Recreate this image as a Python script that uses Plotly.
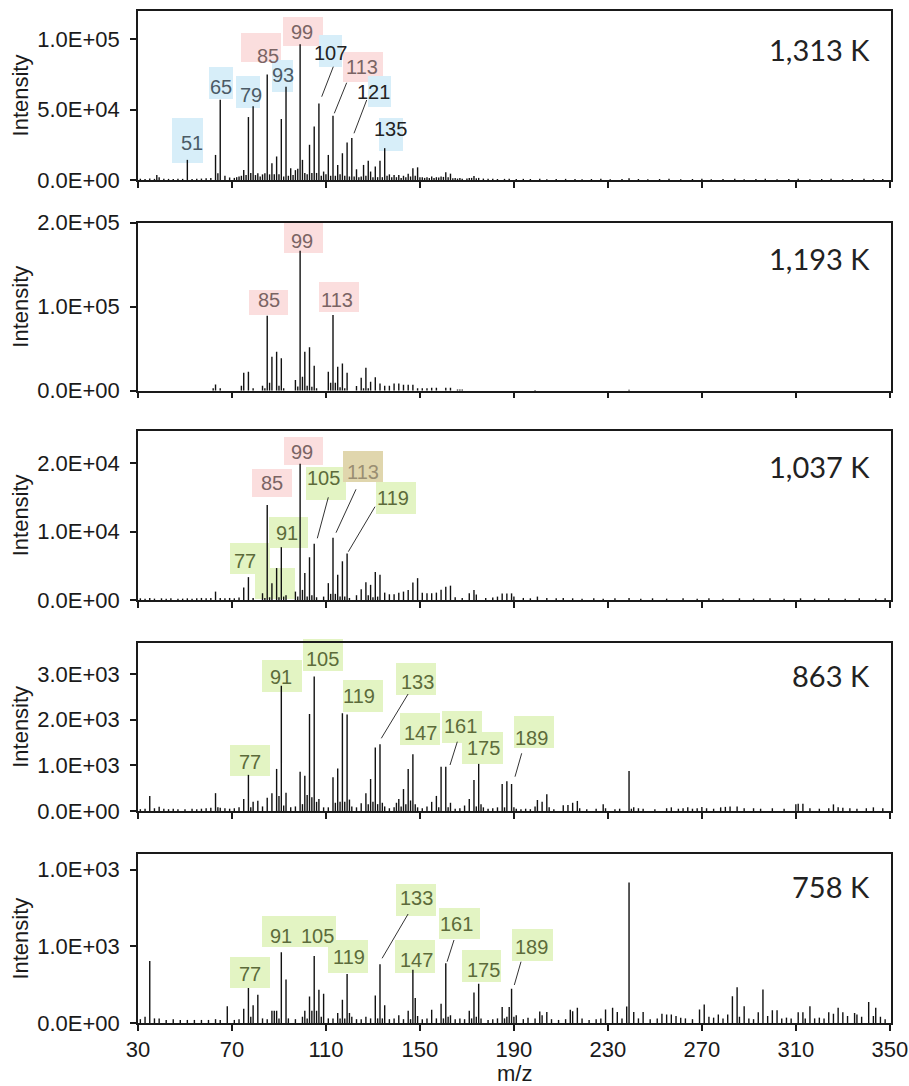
import plotly.graph_objects as go

# ---------------- data ----------------
temps = ["1,313 K", "1,193 K", "1,037 K", "863 K", "758 K"]
x_ticks = [30, 70, 110, 150, 190, 230, 270, 310, 350]

# panel 1 : 1,313 K
p1_mz = [38, 51, 63, 64, 65, 67, 74, 75, 77, 78, 79, 81, 83, 84, 85, 86, 87, 89, 90, 91, 93, 94, 95, 97, 98,
         99, 100, 101, 102, 103, 104, 105, 106, 107, 108, 109, 110, 111, 112, 113, 114, 115, 116, 117, 118,
         119, 120, 121, 122, 123, 124, 125, 126, 127, 128, 129, 130, 131, 132, 133, 134, 135, 136, 137, 138,
         139, 140, 141, 143, 145, 147, 149, 151, 153, 155, 157, 159, 161, 163, 165, 167, 171, 173, 175,
         31, 33, 35, 37, 39, 41, 43, 45, 47, 49, 53, 55, 57, 59, 61, 69, 71, 72, 73, 76, 80, 82, 88, 92, 96,
         142, 144, 146, 148, 150, 152, 154, 156, 158, 160, 162, 164, 166, 168, 170, 172, 174, 177, 179, 181,
         183, 186, 188, 191, 194, 197, 201, 204, 208, 212, 216, 219, 223, 227, 231, 236, 239, 243, 247, 252,
         256, 261, 266, 270, 274, 279, 284, 288, 293, 297, 302, 307, 311, 316, 321, 325, 330, 334, 339, 343, 347]
p1_int = [3600, 14300, 17800, 4800, 57000, 3000, 3000, 7100, 44700, 5000, 52400, 4800, 4000, 4800, 75000, 4000,
          11900, 16700, 4000, 43300, 66200, 3000, 8300, 7000, 8000, 96400, 14300, 5000, 4000, 25000, 5000,
          38000, 5000, 54300, 3000, 6000, 4000, 17800, 3000, 45700, 3000, 10700, 4000, 19000, 3000, 26700,
          2500, 29750, 2500, 7600, 2000, 2500, 10700, 3000, 13600, 6000, 2000, 9500, 2000, 13600, 2000, 22600,
          3000, 4000, 2000, 3500, 2000, 3500, 3000, 4500, 8300, 9000, 2000, 2000, 2500, 2000, 2500, 5500,
          4500, 1500, 1500, 1500, 2800, 1500,
          900, 700, 1100, 800, 2000, 900, 800, 700, 900, 800, 700, 900, 1000, 1200, 1500, 1800, 1500, 2000,
          2500, 3500, 3500, 2500, 4000, 2500, 3500,
          1500, 2000, 2500, 3000, 2000, 1500, 1400, 1500, 1800, 2200, 2000, 1300, 1000, 900, 1000, 1500, 1200,
          1000, 800, 900, 700, 800, 900, 700, 800, 700, 800, 600, 700, 800, 700, 600, 700, 800, 600, 700, 1200,
          700, 600, 700, 800, 600, 700, 800, 600, 700, 800, 600, 700, 800, 600, 700, 800, 600, 700, 800, 600,
          700, 800, 600, 700]

# panel 2 : 1,193 K
p2_mz = [62, 63, 65, 74, 75, 77, 79, 83, 84, 85, 86, 87, 89, 90, 91, 92, 97, 98, 99, 100, 101, 102, 103, 104,
         105, 106, 111, 112, 113, 114, 115, 116, 117, 118, 119, 123, 125, 126, 127, 128, 129, 131, 133, 135,
         137, 139, 141, 143, 145, 147, 149, 151, 153, 155, 157, 161, 163, 166, 167, 168, 199, 239]
p2_int = [2800, 7500, 2800, 6000, 21400, 22600, 2800, 6000, 3000, 89300, 9500, 40500, 46400, 6000, 38500, 3000,
          12700, 5000, 166700, 16700, 46400, 6000, 51600, 4800, 29800, 3000, 22600, 9500, 90100, 9500, 28600,
          4000, 32500, 3000, 21400, 5600, 15500, 3000, 27400, 3000, 10700, 15900, 8700, 6000, 6000, 8700,
          8700, 7000, 7000, 7000, 2800, 2800, 2800, 3500, 3500, 3500, 3500, 1500, 1500, 1500, 800, 1000]

# panel 3 : 1,037 K
p3_mz = [31, 33, 35, 37, 40, 42, 44, 47, 49, 51, 53, 55, 57, 59, 61, 63, 65, 67, 69, 71, 73, 75, 77, 79, 83,
         84, 85, 86, 87, 89, 90, 91, 92, 93, 97, 98, 99, 100, 101, 102, 103, 104, 105, 106, 109, 111, 112,
         113, 114, 115, 116, 117, 118, 119, 120, 123, 125, 127, 128, 129, 130, 131, 132, 133, 135, 137, 139,
         141, 143, 145, 147, 149, 151, 153, 155, 157, 159, 161, 163, 165, 168, 171, 173, 174, 178, 181, 183,
         185, 187, 189, 190, 194, 197, 200, 204, 208, 211, 215, 219, 224, 228, 233, 239, 244, 249, 255, 262,
         268, 273, 279, 286, 292, 299, 305, 312, 318, 324, 331, 337, 344, 348]
p3_int = [250, 200, 300, 200, 250, 200, 250, 200, 200, 250, 200, 250, 300, 250, 300, 1230, 300, 250, 300, 250,
          350, 1820, 3350, 300, 990, 300, 13900, 400, 2470, 4680, 400, 7740, 500, 700, 1230, 500, 19970, 1480,
          3940, 500, 6260, 700, 8230, 400, 500, 2470, 900, 9120, 900, 3700, 500, 5670, 500, 6800, 300, 700,
          1580, 2610, 700, 2220, 400, 4090, 500, 3700, 1080, 840, 840, 1080, 1230, 1480, 2560, 3200, 1080,
          990, 990, 1080, 1500, 1950, 2100, 400, 300, 1000, 1460, 800, 300, 350, 500, 970, 970, 970, 500,
          300, 250, 500, 300, 250, 300, 250, 200, 250, 200, 250, 300, 200, 250, 200, 250, 200, 250, 200, 250,
          200, 250, 200, 250, 200, 250, 200, 250, 200, 250]

# panel 4 : 863 K
p4_mz = [31, 33, 35, 37, 39, 41, 43, 45, 47, 50, 53, 55, 57, 59, 61, 63, 64, 65, 67, 69, 71, 73, 75, 77, 78,
         79, 81, 83, 85, 87, 89, 90, 91, 92, 93, 95, 97, 99, 100, 101, 102, 103, 104, 105, 106, 107, 109, 111,
         113, 114, 115, 116, 117, 118, 119, 120, 121, 123, 125, 127, 128, 129, 130, 131, 132, 133, 134, 135,
         137, 139, 140, 141, 142, 143, 144, 145, 146, 147, 148, 149, 151, 153, 155, 157, 158, 159, 161, 162,
         163, 165, 167, 169, 171, 173, 174, 175, 176, 177, 179, 181, 183, 185, 186, 187, 189, 190, 191, 193,
         195, 197, 199, 200, 202, 204, 205, 207, 211, 213, 215, 217, 218, 221, 225, 228, 229, 233, 235, 239,
         240, 241, 243, 245, 250, 255, 257, 260, 262, 264, 266, 268, 270, 272, 275, 278, 280, 282, 285, 288,
         292, 295, 300, 305, 310, 311, 313, 316, 320, 324, 326, 328, 330, 333, 336, 340, 343, 347]
p4_int = [40, 50, 330, 60, 95, 50, 40, 50, 40, 40, 50, 40, 50, 60, 70, 390, 80, 70, 60, 50, 60, 80, 260, 790,
          80, 200, 225, 100, 290, 390, 920, 330, 2740, 120, 400, 80, 100, 860, 150, 770, 350, 2120, 300, 2940,
          200, 260, 80, 80, 740, 180, 930, 200, 2140, 200, 2110, 250, 100, 80, 170, 390, 150, 700, 200, 1390,
          150, 1460, 180, 100, 60, 80, 180, 260, 100, 480, 150, 920, 230, 1240, 150, 80, 60, 100, 200, 330, 80,
          970, 970, 80, 180, 50, 60, 120, 260, 680, 100, 1030, 150, 80, 50, 60, 80, 590, 80, 650, 590, 80, 50,
          40, 50, 40, 100, 240, 200, 365, 80, 40, 124, 130, 180, 220, 60, 40, 50, 145, 60, 40, 50, 876, 50, 80,
          60, 50, 40, 60, 80, 50, 60, 80, 50, 60, 90, 60, 50, 80, 90, 100, 100, 60, 60, 50, 60, 50, 150, 160,
          160, 60, 50, 60, 145, 80, 70, 60, 50, 60, 80, 60]

# panel 5 : 758 K
p5_mz = [31, 33, 35, 37, 39, 42, 45, 48, 51, 54, 57, 60, 63, 65, 68, 71, 73, 75, 77, 78, 79, 81, 83, 85, 87,
         88, 89, 90, 91, 93, 94, 97, 100, 101, 102, 103, 104, 105, 106, 107, 108, 109, 111, 113, 115, 116,
         117, 118, 119, 120, 121, 123, 125, 127, 129, 131, 132, 133, 134, 135, 137, 139, 141, 143, 145, 146,
         147, 148, 149, 151, 153, 155, 157, 159, 160, 161, 162, 163, 165, 167, 169, 171, 172, 173, 174, 175,
         176, 179, 181, 183, 185, 186, 187, 188, 189, 190, 191, 194, 196, 199, 201, 202, 204, 206, 209, 212,
         214, 215, 217, 219, 222, 225, 227, 229, 232, 234, 236, 238, 239, 241, 243, 245, 248, 251, 253, 255,
         257, 259, 261, 263, 266, 269, 271, 273, 275, 277, 279, 281, 283, 285, 286, 288, 290, 292, 294, 296,
         298, 300, 302, 304, 306, 308, 311, 313, 314, 316, 318, 320, 322, 324, 326, 328, 330, 332, 335, 336,
         338, 341, 343, 344, 346, 348]
p5_int = [50, 80, 810, 60, 60, 40, 50, 40, 40, 40, 40, 40, 50, 40, 220, 40, 50, 186, 455, 80, 230, 368, 60, 50,
          160, 160, 160, 60, 922, 567, 60, 50, 80, 160, 60, 346, 160, 875, 160, 433, 80, 381, 60, 60, 130, 60,
          303, 60, 640, 130, 80, 50, 50, 80, 60, 360, 60, 766, 60, 230, 50, 60, 100, 50, 160, 50, 693, 325,
          90, 50, 60, 173, 60, 250, 60, 780, 80, 100, 50, 60, 50, 160, 60, 398, 80, 511, 60, 40, 50, 60, 208,
          60, 80, 208, 446, 80, 100, 50, 70, 60, 150, 100, 143, 50, 40, 50, 173, 152, 200, 60, 40, 50, 60, 177,
          200, 143, 60, 216, 1832, 143, 60, 143, 50, 60, 120, 110, 110, 90, 70, 60, 50, 177, 242, 80, 70, 110,
          60, 110, 350, 467, 80, 220, 60, 50, 140, 437, 90, 165, 165, 60, 70, 60, 140, 140, 60, 220, 60, 70, 60,
          140, 120, 200, 140, 90, 130, 110, 80, 273, 90, 200, 80, 50]

spectra = [(p1_mz, p1_int), (p2_mz, p2_int), (p3_mz, p3_int), (p4_mz, p4_int), (p5_mz, p5_int)]

y_tickvals = [[0, 50000, 100000], [0, 100000, 200000], [0, 10000, 20000], [0, 1000, 2000, 3000], [0, 1000, 2000]]
y_ticktext = [["0.0E+00", "5.0E+04", "1.0E+05"], ["0.0E+00", "1.0E+05", "2.0E+05"],
              ["0.0E+00", "1.0E+04", "2.0E+04"], ["0.0E+00", "1.0E+03", "2.0E+03", "3.0E+03"],
              ["0.0E+00", "1.0E+03", "1.0E+03"]]
y_max = [120000, 200000, 24800, 3680, 2200]

# ---------------- layout geometry (pixels) ----------------
W, H = 909, 1086
L, R, T, B = 138, 18, 11, 63
PW, PH = W - L - R, H - T - B
panel_px = [(11, 180), (222.7, 390.7), (430.7, 600), (642.7, 811), (854.3, 1023)]


def fx(px):
    return (px - L) / PW


def fy(py):
    return (H - B - py) / PH


AX = "Liberation Sans, Arial, sans-serif"
INK = "#1a1a1a"

fig = go.Figure()
for i, (mz, inten) in enumerate(spectra):
    xs, ys = [], []
    for m, v in zip(mz, inten):
        xs += [m, m, None]
        ys += [0, v, None]
    n = i + 1
    fig.add_trace(go.Scatter(x=xs, y=ys, mode="lines", line=dict(color="#111111", width=1.4),
                             xaxis=f"x{n}", yaxis=f"y{n}", showlegend=False, hoverinfo="skip"))
    top, bot = panel_px[i]
    last = (i == 4)
    fig.layout[f"xaxis{n}"] = dict(
        domain=[0, 1], anchor=f"y{n}", range=[30, 350.5], tickvals=x_ticks,
        showticklabels=last, ticks="outside", ticklen=6, tickwidth=1.5, tickcolor=INK,
        showline=True, linecolor=INK, linewidth=1.5, mirror=True, showgrid=False, zeroline=False,
        tickfont=dict(family=AX, size=22, color=INK),
    )
    fig.layout[f"yaxis{n}"] = dict(
        domain=[fy(bot), fy(top)], anchor=f"x{n}", range=[0, y_max[i]],
        tickvals=y_tickvals[i], ticktext=y_ticktext[i],
        ticks="outside", ticklen=6, tickwidth=1.5, tickcolor=INK, ticklabelstandoff=6,
        showline=True, linecolor=INK, linewidth=1.5, mirror=True, showgrid=False, zeroline=False,
        tickfont=dict(family=AX, size=22, color=INK),
        title=dict(text="Intensity", font=dict(family=AX, size=22, color=INK), standoff=3),
    )
    fig.add_annotation(text=temps[i], xref="paper", yref="paper", x=fx(872),
                       y=fy([49, 258, 467, 675, 886][i]), xanchor="right", yanchor="middle",
                       showarrow=False, font=dict(family="Lato, Carlito, sans-serif", size=29, color="#222222"))

# x-axis title
fig.add_annotation(text="m/z", xref="paper", yref="paper", x=0.5, y=fy(1073), xanchor="center",
                   yanchor="middle", showarrow=False, font=dict(family=AX, size=22, color=INK))

# ---------------- peak labels (highlight boxes) ----------------
FILL = {"b": "#d7eef9", "p": "#fbdede", "g": "#e3f4c3", "t": "#e0d6ad"}
TXT = {"b": "#4b5b66", "p": "#7a6464", "g": "#5c6b3a", "t": "#9a8e72", "k": "#222222"}

# (label, box colour, text colour, box x0, x1, y0, y1, text cx, cy, leader)
labels = [
    ("51", "b", "b", 172, 203, 118, 163, 191.7, 142.7, None),
    ("65", "b", "b", 209, 233, 67, 99, 221, 86.7, None),
    ("79", "b", "b", 236, 260, 76, 108, 250.7, 95, None),
    ("85", "p", "p", 241, 281, 33, 62, 268.3, 55.7, None),
    ("93", "b", "b", 272, 293, 60, 92, 283.3, 75, None),
    ("99", "p", "p", 283, 323, 17, 46, 302.3, 32.3, None),
    ("107", "b", "k", 319, 342, 35, 67, 330, 53.3, (333.3, 66.7, 321.7, 96.7)),
    ("113", "p", "p", 343, 383, 52, 82, 361.7, 66.7, (346.7, 82.7, 334.3, 113.3)),
    ("121", "b", "k", 368, 391, 76, 107, 373.3, 91.7, (366.7, 100, 354, 133.3)),
    ("135", "b", "k", 379, 403, 118, 151, 390, 129.3, None),
    # panel 2
    ("85", "p", "p", 249, 288, 290, 315, 269.3, 300, None),
    ("99", "p", "p", 284, 323, 223, 253, 302.3, 240.7, None),
    ("113", "p", "p", 319, 359, 282, 312, 336.7, 300, None),
    # panel 3
    ("", "g", "g", 255, 295, 568, 599, 275, 583, None),
    ("99", "p", "p", 284, 323, 437, 465, 301.7, 451.7, None),
    ("85", "p", "p", 252, 292, 469, 497, 271.7, 482.7, None),
    ("105", "g", "g", 306, 346, 467, 500, 323.3, 478.3, (328.3, 497.3, 317.3, 538.3)),
    ("113", "t", "t", 343, 383, 451, 482, 363.3, 471.7, (356, 489.3, 336, 532.7)),
    ("119", "g", "g", 376, 416, 482, 514, 392.7, 498.3, (375, 506.7, 348.3, 551.7)),
    ("91", "g", "g", 269, 308, 517, 548, 286.7, 532.7, None),
    ("77", "g", "g", 230, 270, 543, 574, 245, 560.7, None),
    # panel 4
    ("77", "g", "g", 230, 270, 745, 776, 250.3, 761.7, None),
    ("91", "g", "g", 262, 302, 660, 692, 280.9, 677.3, None),
    ("105", "g", "g", 303, 343, 639, 671, 322.9, 659.3, None),
    ("119", "g", "g", 343, 383, 680, 712, 359.2, 696, None),
    ("133", "g", "g", 396, 436, 663, 695, 417.7, 681.7, (408.1, 694, 381.3, 738.3)),
    ("147", "g", "g", 400, 440, 713, 745, 420.3, 733.3, None),
    ("161", "g", "g", 442, 482, 711, 743, 460.5, 726, (457.3, 741.7, 450, 765)),
    ("175", "g", "g", 462, 503, 732, 764, 483.4, 748.3, None),
    ("189", "g", "g", 514, 554, 716, 748, 531.2, 738.3, (521.7, 753.3, 515, 776.7)),
    # panel 5
    ("77", "g", "g", 230, 270, 957, 988, 250.3, 974, None),
    ("91", "g", "g", 262, 302, 916, 947, 280.9, 936, None),
    ("105", "g", "g", 295, 336, 916, 947, 317.2, 936, None),
    ("119", "g", "g", 328, 368, 940, 973, 348.5, 956.7, None),
    ("133", "g", "g", 396, 436, 884, 916, 416.5, 898.3, (408.1, 914, 382.1, 958.3)),
    ("147", "g", "g", 395, 435, 940, 973, 416.5, 960, None),
    ("161", "g", "g", 439, 480, 908, 939, 456.6, 924, (454, 940, 447.1, 961.7)),
    ("175", "g", "g", 462, 501, 950, 982, 483.4, 970, None),
    ("189", "g", "g", 512, 553, 929, 961, 531.2, 946.7, (521, 961.7, 514.3, 985)),
]

for (txt, bc, tc, x0, x1, y0, y1, cx, cy, lead) in labels:
    fig.add_shape(type="rect", xref="paper", yref="paper", x0=fx(x0), x1=fx(x1), y0=fy(y1), y1=fy(y0),
                  fillcolor=FILL[bc], line=dict(width=0), layer="below")
    if txt:
        fig.add_annotation(text=txt, xref="paper", yref="paper", x=fx(cx), y=fy(cy), showarrow=False,
                           xanchor="center", yanchor="middle",
                           font=dict(family=AX, size=20, color=TXT[tc]))
    if lead:
        fig.add_shape(type="line", xref="paper", yref="paper", x0=fx(lead[0]), y0=fy(lead[1]),
                      x1=fx(lead[2]), y1=fy(lead[3]), line=dict(color="#333333", width=1))

fig.update_layout(width=W, height=H, margin=dict(l=L, r=R, t=T, b=B, autoexpand=False),
                  paper_bgcolor="white", plot_bgcolor="rgba(0,0,0,0)", showlegend=False)

fig.write_html("out.html", config={"displayModeBar": False},
               post_script="document.body.style.margin='0px';document.body.style.overflow='hidden';")
